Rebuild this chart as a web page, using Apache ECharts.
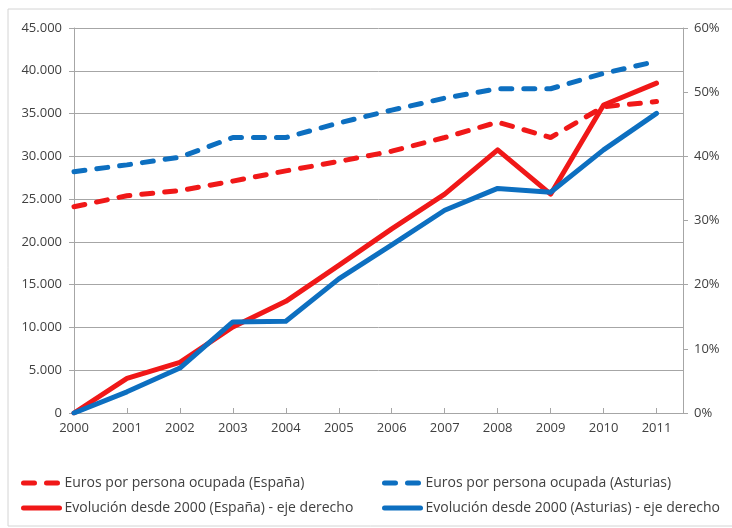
<!DOCTYPE html>
<html>
<head>
<meta charset="utf-8">
<script src="https://cdn.jsdelivr.net/npm/echarts@6/dist/echarts.min.js"></script>
<style>
  html, body { margin: 0; padding: 0; background: #fff; }
  #chart { width: 732px; height: 528px; }
</style>
</head>
<body>
<div id="chart"></div>
<script>
// años
const years = [2000, 2001, 2002, 2003, 2004, 2005, 2006, 2007, 2008, 2009, 2010, 2011]
// euros por persona ocupada
const eurosEspana = [24100, 25400, 26000, 27100, 28300, 29400, 30600, 32200, 34000, 32200, 35800, 36400]
const eurosAsturias = [28200, 29000, 29900, 32200, 32200, 33900, 35400, 36800, 37900, 37900, 39700, 41100]
// evolución desde 2000, eje derecho (%)
const evolEspana = [0, 5.4, 7.9, 13.4, 17.4, 23.0, 28.7, 34.1, 41.0, 34.1, 48.0, 51.4]
const evolAsturias = [0, 3.3, 7.0, 14.2, 14.3, 20.9, 26.2, 31.6, 35.0, 34.4, 41.0, 46.7]
const leftTicks = [0, 45000, 5000]   // min, max, interval
const rightTicks = [0, 60, 10]

const names = [
  'Euros por persona ocupada (España)',
  'Euros por persona ocupada (Asturias)',
  'Evolución desde 2000 (España) - eje derecho',
  'Evolución desde 2000 (Asturias) - eje derecho'
]

const RED = '#f01818'
const BLUE = '#0d6fc0'
const GRID = '#a6a6a6'
const TXT = '#404040'
const FONT = 'Open Sans'

const pairs = arr => years.map((y, i) => [y, arr[i]])

const dashed = { width: 5, type: [11, 12], cap: 'round' }
const solid = { width: 5, cap: 'round', join: 'round' }

const legendBase = {
  orient: 'vertical',
  top: 471,
  itemWidth: 36, itemHeight: 12, itemGap: 11,
  itemStyle: { opacity: 0 },
  lineStyle: { width: 5 },
  textStyle: { color: TXT, fontSize: 14, fontFamily: FONT }
}

const chart = echarts.init(document.getElementById('chart'))
chart.setOption({
  animation: false,
  textStyle: { fontFamily: FONT },
  graphic: [{
    type: 'rect',
    shape: { x: 8, y: 9, width: 800, height: 517 },
    style: { fill: 'none', stroke: '#d4d4d4', lineWidth: 1 },
    z: -10
  }],
  grid: { left: 74, right: 49, top: 28, bottom: 115 },
  xAxis: {
    type: 'value',
    min: 2000,
    max: 2011.5,
    interval: 1,
    axisLine: { lineStyle: { color: GRID } },
    axisTick: { show: true, inside: true, length: 5, lineStyle: { color: GRID } },
    splitLine: { show: false },
    axisLabel: {
      color: TXT, fontSize: 13, fontFamily: FONT, margin: 9,
      formatter: v => (Number.isInteger(v) ? String(v) : '')
    }
  },
  yAxis: [{
    type: 'value',
    min: leftTicks[0], max: leftTicks[1], interval: leftTicks[2],
    axisLine: { show: true, lineStyle: { color: GRID } },
    axisTick: { show: true, length: 5, lineStyle: { color: GRID } },
    splitLine: { lineStyle: { color: GRID, width: 1 } },
    axisLabel: {
      color: TXT, fontSize: 13, fontFamily: FONT, margin: 12,
      formatter: v => v === 0 ? '0' : String(v).replace(/(\d)(?=(\d{3})+$)/g, '$1.')
    }
  }, {
    type: 'value',
    min: rightTicks[0], max: rightTicks[1], interval: rightTicks[2],
    position: 'right',
    axisLine: { show: true, lineStyle: { color: GRID } },
    axisTick: { show: true, length: 5, lineStyle: { color: GRID } },
    splitLine: { show: false },
    axisLabel: { color: TXT, fontSize: 13, fontFamily: FONT, margin: 11, formatter: '{value}%' }
  }],
  legend: [
    { ...legendBase, data: [names[0], names[2]], left: 16 },
    { ...legendBase, data: [names[1], names[3]], left: 377 }
  ],
  series: [
    { name: names[0], type: 'line', yAxisIndex: 0, data: pairs(eurosEspana), symbol: 'none', color: RED, lineStyle: { ...dashed, color: RED }, z: 3 },
    { name: names[1], type: 'line', yAxisIndex: 0, data: pairs(eurosAsturias), symbol: 'none', color: BLUE, lineStyle: { ...dashed, color: BLUE }, z: 3 },
    { name: names[2], type: 'line', yAxisIndex: 1, data: pairs(evolEspana), symbol: 'none', color: RED, lineStyle: { ...solid, color: RED }, z: 2 },
    { name: names[3], type: 'line', yAxisIndex: 1, data: pairs(evolAsturias), symbol: 'none', color: BLUE, lineStyle: { ...solid, color: BLUE }, z: 4 }
  ]
})
</script>
</body>
</html>
